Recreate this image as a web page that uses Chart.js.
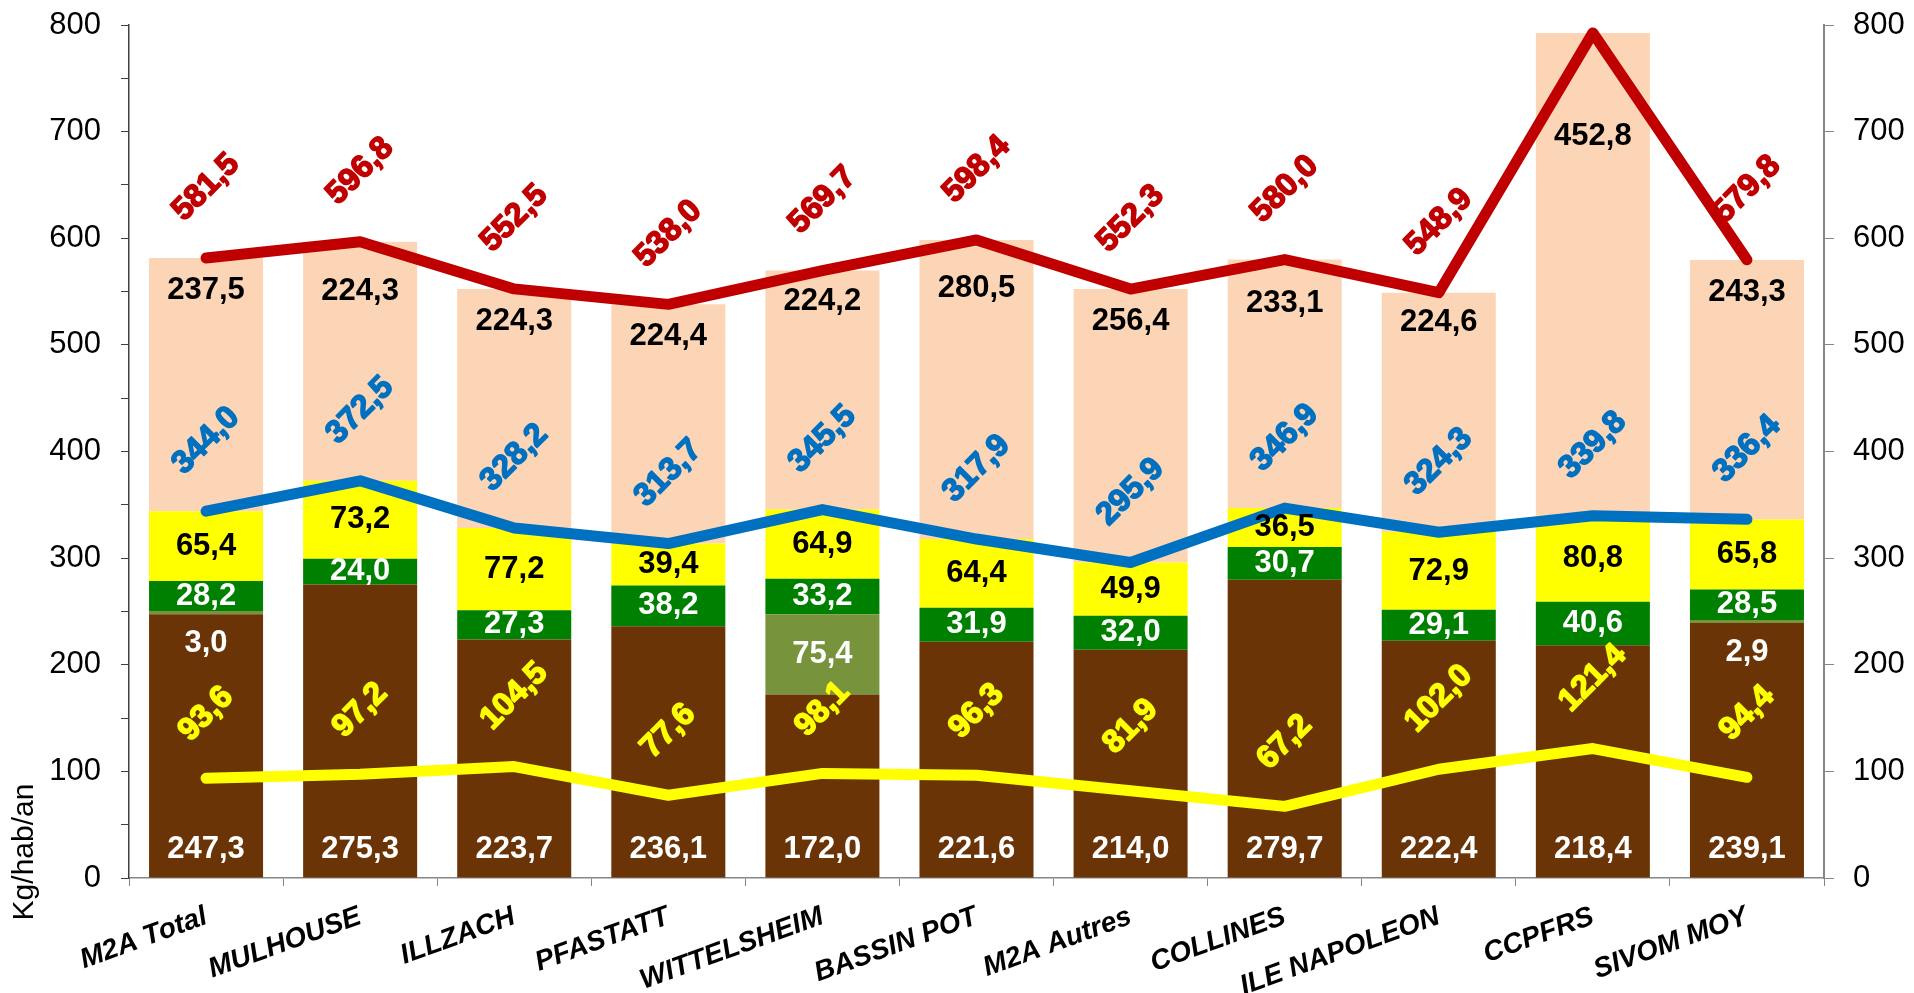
<!DOCTYPE html>
<html>
<head>
<meta charset="utf-8">
<script src="https://cdn.jsdelivr.net/npm/chart.js@4"></script>
<style>
  html, body { margin: 0; padding: 0; background: #fff; }
  #wrap { width: 1914px; height: 993px; position: relative; }
</style>
</head>
<body>
<div id="wrap"><canvas id="myChart"></canvas></div>
<script>
let categories = ['M2A Total', 'MULHOUSE', 'ILLZACH', 'PFASTATT', 'WITTELSHEIM', 'BASSIN POT',
  'M2A Autres', 'COLLINES', 'ILE NAPOLEON', 'CCPFRS', 'SIVOM MOY'];

// stacked bar segments (kg/hab/an)
let brown = [247.3, 275.3, 223.7, 236.1, 172.0, 221.6, 214.0, 279.7, 222.4, 218.4, 239.1];
let olive = [3.0, null, null, null, 75.4, null, null, null, null, null, 2.9];
let green = [28.2, 24.0, 27.3, 38.2, 33.2, 31.9, 32.0, 30.7, 29.1, 40.6, 28.5];
let yellowBar = [65.4, 73.2, 77.2, 39.4, 64.9, 64.4, 49.9, 36.5, 72.9, 80.8, 65.8];
let peach = [237.5, 224.3, 224.3, 224.4, 224.2, 280.5, 256.4, 233.1, 224.6, 452.8, 243.3];

// lines
let redLine = [581.5, 596.8, 552.5, 538.0, 569.7, 598.4, 552.3, 580.0, 548.9, 792.6, 579.8];
let blueLine = [344.0, 372.5, 328.2, 313.7, 345.5, 317.9, 295.9, 346.9, 324.3, 339.8, 336.4];
let yellowLine = [93.6, 97.2, 104.5, 77.6, 98.1, 96.3, 81.9, 67.2, 102.0, 121.4, 94.4];

let yTicksMax = 800;
let yTitle = 'Kg/hab/an';

// how far below the top of the peach segment its label sits (px)
let peachDrop = [32, 50, 33, 32, 31, 48, 32, 44, 30, 104, 32];

const FONT = "'Liberation Sans', Arial, sans-serif";
const fmt = (v) => v.toFixed(1).replace('.', ',');

const valueLabels = {
  id: 'valueLabels',
  afterDatasetsDraw(chart) {
    const ctx = chart.ctx;
    ctx.save();
    ctx.textAlign = 'center';
    ctx.textBaseline = 'middle';

    // bar labels
    chart.data.datasets.forEach((ds, i) => {
      if (ds.type === 'line') return;
      const meta = chart.getDatasetMeta(i);
      ctx.font = 'bold 31px ' + FONT;
      ctx.fillStyle = ds.labelColor;
      meta.data.forEach((el, j) => {
        const v = ds.data[j];
        if (v === null || v === undefined) return;
        const p = el.getProps(['x', 'y', 'base'], true);
        let y;
        if (ds.labelPos === 'base') y = p.base - 28;
        else if (ds.labelPos === 'top') y = p.y + peachDrop[j];
        else if (Math.abs(p.base - p.y) < 25) y = p.base + 29;
        else y = (p.y + p.base) / 2;
        ctx.fillText(fmt(v), p.x, y);
      });
    });

    // line labels, rotated
    chart.data.datasets.forEach((ds, i) => {
      if (ds.type !== 'line') return;
      const meta = chart.getDatasetMeta(i);
      ctx.font = 'bold 32px ' + FONT;
      ctx.fillStyle = ds.borderColor;
      ctx.strokeStyle = ds.borderColor;
      ctx.lineWidth = 1.6;
      ctx.lineJoin = 'round';
      meta.data.forEach((el, j) => {
        const txt = fmt(ds.data[j]);
        const w = ctx.measureText(txt).width;
        const half = (w + 23) / (2 * Math.SQRT2);
        const cy = el.y - half - 34;
        if (cy - half < 0) return;
        ctx.save();
        ctx.translate(el.x, cy);
        ctx.rotate(-Math.PI / 4);
        ctx.fillText(txt, 0, 0);
        ctx.strokeText(txt, 0, 0);
        ctx.restore();
      });
    });

    // axis title
    ctx.font = '30px ' + FONT;
    ctx.fillStyle = '#000';
    ctx.translate(25, 852);
    ctx.rotate(-Math.PI / 2);
    ctx.fillText(yTitle, 0, 0);
    ctx.restore();
  }
};

let myChart = document.getElementById('myChart').getContext('2d');
let chart = new Chart(myChart, {
  type: 'bar',
  data: {
    labels: categories,
    datasets: [
      { type: 'line', data: redLine, borderColor: '#C00000', yAxisID: 'y2', order: 0 },
      { type: 'line', data: blueLine, borderColor: '#0070C0', yAxisID: 'y2', order: 0 },
      { type: 'line', data: yellowLine, borderColor: '#FFFF00', yAxisID: 'y2', order: 0 },
      { data: brown, backgroundColor: '#6B3407', labelColor: '#FFFFFF', labelPos: 'base', order: 1 },
      { data: olive, backgroundColor: '#77933C', labelColor: '#FFFFFF', labelPos: 'small', order: 1 },
      { data: green, backgroundColor: '#008000', labelColor: '#FFFFFF', labelPos: 'center', order: 1 },
      { data: yellowBar, backgroundColor: '#FFFF00', labelColor: '#000000', labelPos: 'center', order: 1 },
      { data: peach, backgroundColor: '#FBD5B5', labelColor: '#000000', labelPos: 'top', order: 1 },
    ],
  },
  options: {
    responsive: true,
    maintainAspectRatio: false,
    animation: false,
    layout: { padding: { top: 25, left: 0, right: 0, bottom: 0 } },
    datasets: {
      bar: { categoryPercentage: 1, barPercentage: 0.74, borderWidth: 0 },
      line: { borderWidth: 11, pointRadius: 0, borderCapStyle: 'round', borderJoinStyle: 'round', tension: 0, fill: false },
    },
    plugins: {
      legend: { display: false },
      tooltip: { enabled: false },
    },
    scales: {
      x: {
        stacked: true,
        grid: { display: true, drawOnChartArea: false, offset: true, tickLength: 8, color: '#868686' },
        border: { color: '#868686', width: 1.5 },
        ticks: {
          autoSkip: false, minRotation: 20, maxRotation: 20, padding: 14,
          color: '#000', font: { family: FONT, size: 28, weight: 'bold', style: 'italic' },
        },
        afterFit: (s) => { s.height = 115; },
      },
      y: {
        stacked: true, min: 0, max: yTicksMax, position: 'left',
        grid: { drawOnChartArea: false, tickLength: 8, color: '#404040' },
        border: { color: '#404040', width: 1.5 },
        ticks: {
          stepSize: 50, padding: 20, color: '#000',
          font: { family: FONT, size: 31 },
          callback: (v) => (v % 100 === 0 ? v : ''),
        },
        afterFit: (s) => { s.width = 129; s.paddingTop = 0; s.paddingBottom = 0; },
      },
      y2: {
        min: 0, max: yTicksMax, position: 'right',
        grid: { drawOnChartArea: false, tickLength: 10, color: '#868686' },
        border: { color: '#868686', width: 2 },
        ticks: { stepSize: 100, padding: 19, color: '#000', font: { family: FONT, size: 31 } },
        afterFit: (s) => { s.width = 90; s.paddingTop = 0; s.paddingBottom = 0; },
      },
    },
  },
  plugins: [valueLabels],
});
</script>
</body>
</html>
